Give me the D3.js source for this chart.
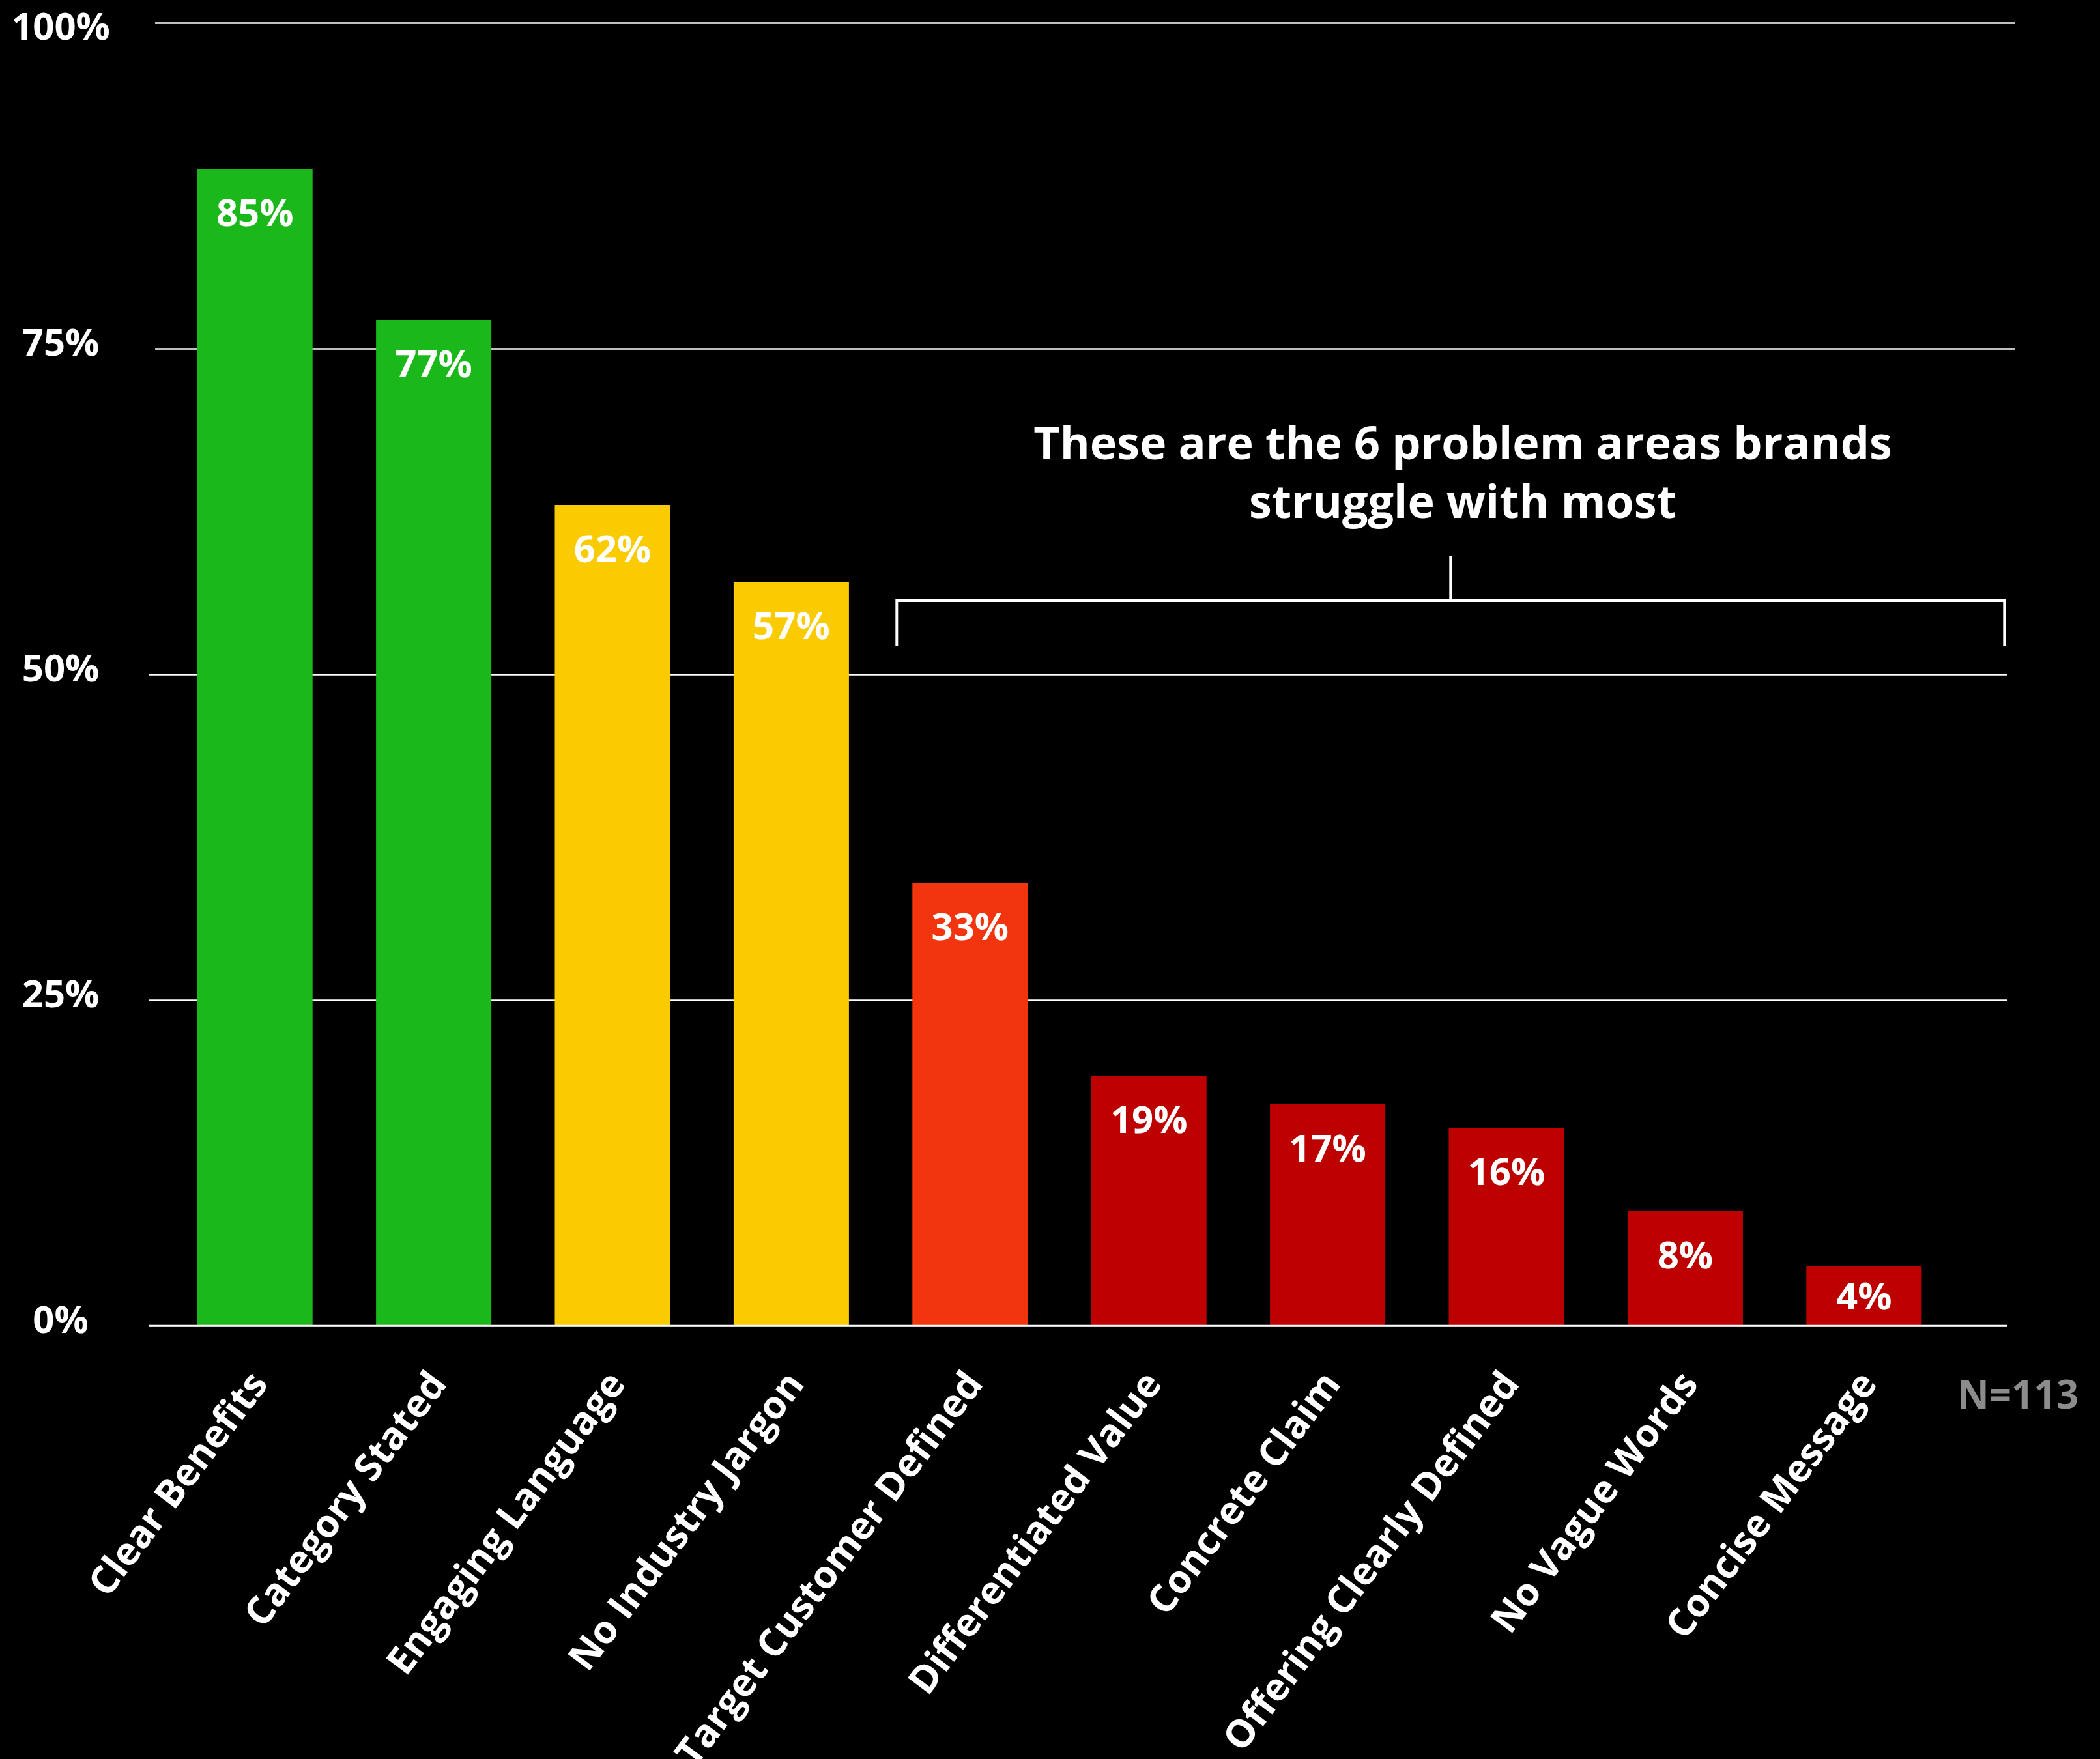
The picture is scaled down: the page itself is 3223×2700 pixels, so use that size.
<!DOCTYPE html>
<html>
<head>
<meta charset="utf-8">
<script src="https://cdn.jsdelivr.net/npm/d3@7"></script>
<style>
  html, body { margin: 0; padding: 0; background: #000; }
  svg { display: block; font-family: "Open Sans", sans-serif; font-weight: 700; }
</style>
</head>
<body>
<script>
const categories = ['Clear Benefits', 'Category Stated', 'Engaging Language', 'No Industry Jargon',
  'Target Customer Defined', 'Differentiated Value', 'Concrete Claim', 'Offering Clearly Defined',
  'No Vague Words', 'Concise Message']
// bar heights as drawn (they don't exactly match the printed labels)
const barValues = [88.8, 77.2, 63.0, 57.1, 34.0, 19.2, 17.0, 15.2, 8.8, 4.6]
const valueLabels = ['85%', '77%', '62%', '57%', '33%', '19%', '17%', '16%', '8%', '4%']
const barColors = ['#1bb81b', '#1bb81b', '#f9cb00', '#f9cb00', '#f2350e',
  '#bd0000', '#bd0000', '#bd0000', '#bd0000', '#bd0000']
const yTicks = [0, 25, 50, 75, 100]
const titleLines = ['These are the 6 problem areas brands', 'struggle with most']
const sampleNote = 'N=113'

const width = 3223
const height = 2700
const gridLeft = 228
const gridRight = 3080

const svg = d3.select('body').append('svg')
  .attr('width', width)
  .attr('height', height)

svg.append('rect').attr('width', width).attr('height', height).attr('fill', '#000')

const y = d3.scaleLinear().domain([0, 100]).range([2035, 35])
const x = d3.scaleBand().domain(categories)
  .range([254, 2998])
  .paddingInner(0.355)
  .paddingOuter(0.1775)

// gridlines + percent labels
const yAxis = svg.append('g')
  .attr('transform', `translate(${gridLeft},0)`)
  .call(d3.axisLeft(y).tickValues(yTicks).tickSize(-(gridRight - gridLeft)).tickFormat(d => d + '%'))
yAxis.select('.domain').remove()
// the upper two lines sit a little further right in the original
yAxis.selectAll('.tick line')
  .attr('x1', d => d >= 75 ? 10 : 0)
  .attr('x2', d => (gridRight - gridLeft) + (d >= 75 ? 13 : 0))
  .attr('stroke', '#fff').attr('stroke-width', 2.5)
yAxis.selectAll('.tick text')
  .attr('x', 93 - gridLeft)
  .attr('y', d => d === 100 ? 7 : -8)
  .attr('dy', '0.32em')
  .attr('text-anchor', 'middle')
  .attr('fill', '#fff')
  .attr('font-size', 58)
  .attr('font-family', '"Open Sans", sans-serif')
  .attr('font-weight', 700)

// bars
svg.append('g').selectAll('rect')
  .data(categories)
  .join('rect')
  .attr('x', d => x(d))
  .attr('y', (d, i) => y(barValues[i]))
  .attr('width', x.bandwidth())
  .attr('height', (d, i) => y(0) - y(barValues[i]))
  .attr('fill', (d, i) => barColors[i])

// redraw baseline on top of bars
svg.append('line')
  .attr('x1', gridLeft).attr('x2', gridRight)
  .attr('y1', y(0)).attr('y2', y(0))
  .attr('stroke', '#fff').attr('stroke-width', 2.5)

// value labels inside bars
svg.append('g').selectAll('text')
  .data(categories)
  .join('text')
  .attr('x', d => x(d) + x.bandwidth() / 2)
  .attr('y', (d, i) => Math.min(y(barValues[i]) + 88, y(0) - 25))
  .attr('text-anchor', 'middle')
  .attr('fill', '#fff')
  .attr('font-size', 58)
  .text((d, i) => valueLabels[i])

// rotated category labels
svg.append('g').selectAll('text')
  .data(categories)
  .join('text')
  .attr('transform', d => `translate(${x(d) + x.bandwidth() / 2 + 22},${y(0) + 90}) rotate(-53)`)
  .attr('text-anchor', 'end')
  .attr('fill', '#fff')
  .attr('font-size', 59)
  .text(d => d)

// bracket over the problem areas
const bLeft = x(categories[4]) - 24
const bRight = x(categories[9]) + x.bandwidth() + 127
const bMid = (bLeft + bRight) / 2
const bY = 922
svg.append('path')
  .attr('d', `M${bLeft},${bY + 69}V${bY}H${bRight}V${bY + 69}M${bMid},${bY}V${bY - 69}`)
  .attr('fill', 'none')
  .attr('stroke', '#fff')
  .attr('stroke-width', 4)

svg.append('g').selectAll('text')
  .data(titleLines)
  .join('text')
  .attr('x', 2245)
  .attr('y', (d, i) => 705 + i * 90)
  .attr('text-anchor', 'middle')
  .attr('fill', '#fff')
  .attr('font-size', 70)
  .text(d => d)

svg.append('text')
  .attr('x', 3004)
  .attr('y', 2162)
  .attr('fill', '#8c8c8c')
  .attr('font-size', 60)
  .text(sampleNote)
</script>
</body>
</html>
